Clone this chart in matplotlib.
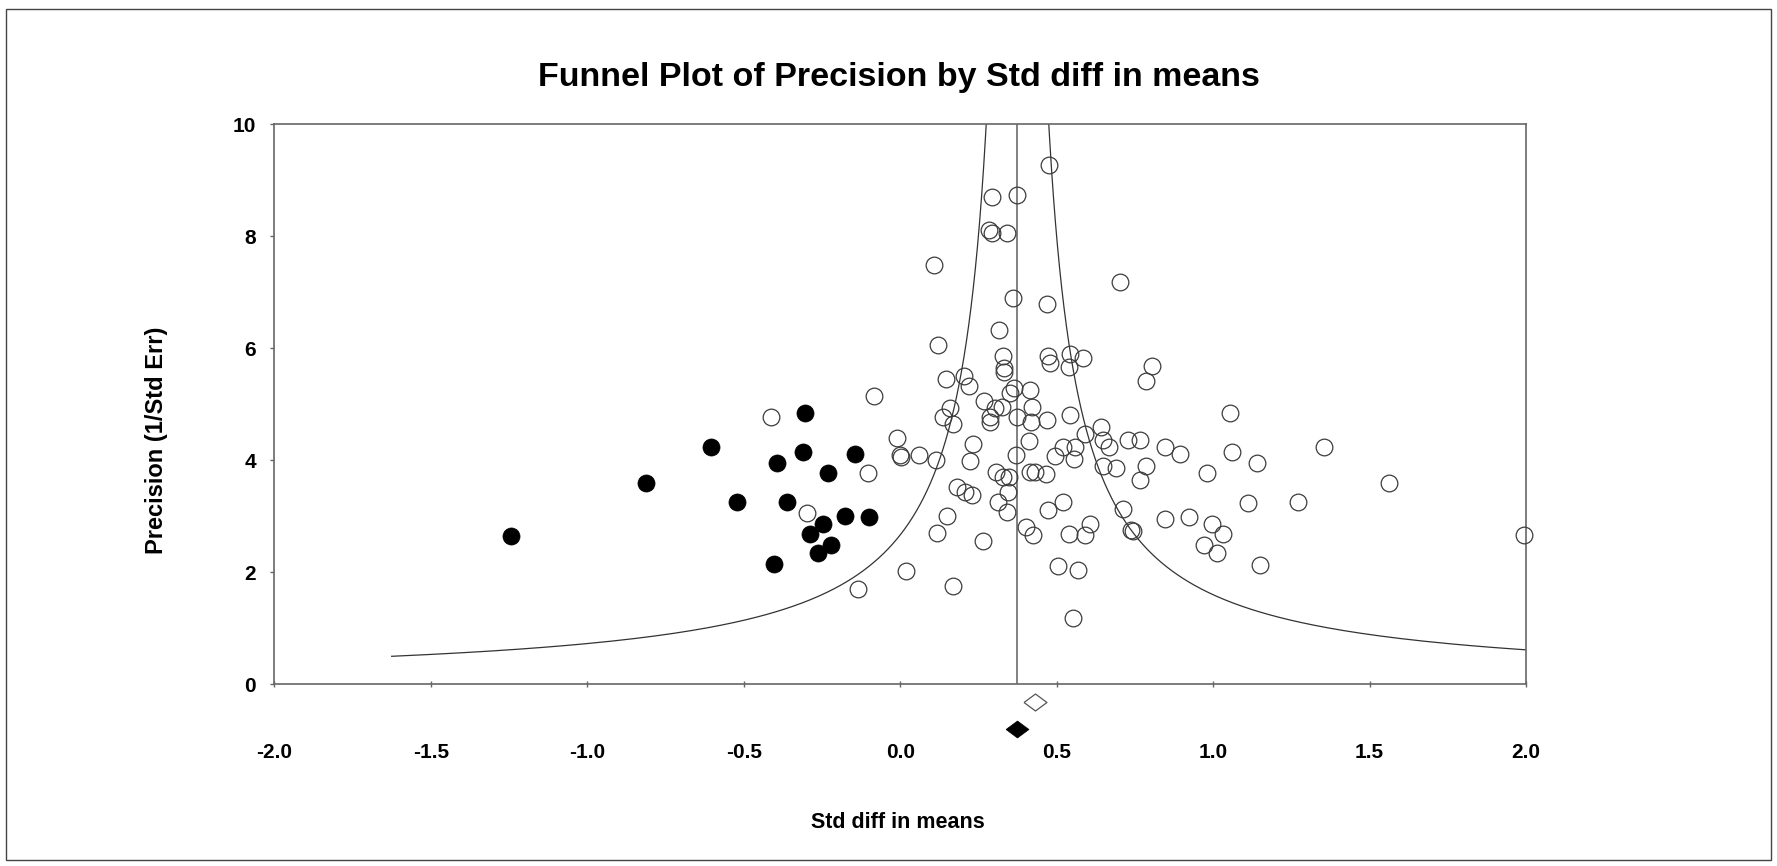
import matplotlib
matplotlib.use('Agg')
import matplotlib.pyplot as plt
import numpy as np
from matplotlib.patches import Rectangle

plt.rcParams['font.family'] = ['Liberation Sans', 'DejaVu Sans']

# ---------------- data ----------------
# observed studies (open circles): std diff in means, precision
obs_x = [0.476, 0.292, 0.375, 0.283, 0.295, 0.343, 0.108, 0.702, 0.362, 0.469,
         0.315, 0.120, 0.329, 0.331, 0.332, 0.473, 0.478, 0.542, 0.540, 0.585,
         0.806, 0.785, 0.146, 0.203, 0.221, 0.350, 0.364, 0.414, -0.082, 0.268,
         0.302, 0.324, 0.286, 0.286, 0.159, 0.138, 0.170, 0.374, 0.420, 0.417,
         0.468, 0.542, 1.053, -0.414, 0.590, 0.643, 0.649, 0.668, 0.729, 0.766,
         0.846, 0.894, 1.059, 1.354, 1.139, -0.009, -0.001, 0.004, 0.060, 0.114,
         0.234, 0.222, 0.412, 0.370, 0.519, 0.558, 0.494, 0.556, 0.648, 0.689,
         0.787, 0.766, 0.981, 1.563, 0.306, 0.329, 0.348, 0.345, 0.313, 0.340,
         0.414, 0.430, 0.465, 0.181, 0.206, 0.230, 0.149, 0.118, 0.265, 0.402,
         0.423, 0.472, 0.520, 0.540, 0.590, 0.608, 0.713, 0.846, 0.923, 0.995,
         1.032, 1.112, 1.270, 0.739, 0.745, 0.970, 1.011, 1.151, 0.505, 0.569,
         0.553, 1.993, -0.297, -0.102, -0.136, 0.018, 0.169]
obs_y = [9.27, 8.70, 8.74, 8.12, 8.05, 8.05, 7.48, 7.18, 6.89, 6.79,
         6.33, 6.06, 5.86, 5.64, 5.58, 5.86, 5.73, 5.89, 5.67, 5.83,
         5.68, 5.42, 5.45, 5.51, 5.32, 5.20, 5.29, 5.26, 5.14, 5.05,
         4.93, 4.95, 4.78, 4.69, 4.93, 4.77, 4.65, 4.78, 4.95, 4.69,
         4.72, 4.81, 4.84, 4.77, 4.47, 4.60, 4.36, 4.24, 4.37, 4.36,
         4.23, 4.11, 4.15, 4.24, 3.95, 4.39, 4.09, 4.06, 4.09, 4.00,
         4.30, 3.99, 4.35, 4.10, 4.24, 4.24, 4.07, 4.03, 3.89, 3.86,
         3.89, 3.64, 3.77, 3.59, 3.80, 3.71, 3.70, 3.43, 3.26, 3.08,
         3.80, 3.80, 3.76, 3.52, 3.44, 3.38, 3.00, 2.71, 2.56, 2.81,
         2.67, 3.12, 3.26, 2.69, 2.67, 2.86, 3.13, 2.96, 2.99, 2.86,
         2.68, 3.24, 3.26, 2.76, 2.73, 2.48, 2.34, 2.13, 2.11, 2.05,
         1.19, 2.66, 3.06, 3.77, 1.70, 2.03, 1.76]

# imputed studies (filled circles)
imp_x = [-1.245, -0.812, -0.603, -0.521, -0.304, -0.310, -0.392, -0.363, -0.232,
         -0.145, -0.099, -0.176, -0.288, -0.246, -0.222, -0.262, -0.404]
imp_y = [2.65, 3.59, 4.24, 3.26, 4.84, 4.15, 3.95, 3.25, 3.77,
         4.11, 2.98, 3.01, 2.68, 2.86, 2.48, 2.34, 2.14]

mean_observed = 0.431     # open diamond
mean_adjusted = 0.375     # filled diamond / vertical line / funnel centre
diamond_y = [-0.32, -0.80]
funnel_k = 1.0            # half-width = funnel_k / precision
funnel_prec_min = 0.5

title = "Funnel Plot of Precision by Std diff in means"
xlabel = "Std diff in means"
ylabel = "Precision (1/Std Err)"
xticks = [-2.0, -1.5, -1.0, -0.5, 0.0, 0.5, 1.0, 1.5, 2.0]
yticks = [0, 2, 4, 6, 8, 10]

# ---------------- figure ----------------
W, H = 1777, 866
fig = plt.figure(figsize=(W / 100, H / 100), dpi=100)
ax = fig.add_axes([274.3 / W, 1 - 684.3 / H, (1526 - 274.3) / W, (684.3 - 124.3) / H])
ax.set_xlim(-2, 2)
ax.set_ylim(0, 10)

spine_col = '#666666'
for s in ax.spines.values():
    s.set_color(spine_col)
    s.set_linewidth(1.2)

# funnel
prec = np.linspace(funnel_prec_min, 10, 600)
ax.plot(mean_adjusted - funnel_k / prec, prec, color='#333333', lw=0.9)
ax.plot(mean_adjusted + funnel_k / prec, prec, color='#333333', lw=0.9)
ax.axvline(mean_adjusted, color='#777777', lw=1.3)

# points
ax.plot(obs_x, obs_y, linestyle='none', marker='o', ms=12, mfc='none',
        mec='#3c3c3c', mew=0.9, clip_on=False, zorder=3)
ax.plot(imp_x, imp_y, linestyle='none', marker='o', ms=12.3, mfc='black',
        mec='black', mew=0.5, clip_on=False, zorder=3)

dmark = [(-1.35, 0), (0, 1), (1.35, 0), (0, -1), (-1.35, 0)]
ax.plot([mean_observed], [diamond_y[0]], linestyle='none', marker=dmark, ms=16.5,
        mfc='white', mec='#555555', mew=0.9, clip_on=False, zorder=3)
ax.plot([mean_adjusted], [diamond_y[1]], linestyle='none', marker=dmark, ms=16.5,
        mfc='black', mec='black', mew=0.5, clip_on=False, zorder=3)

ax.set_xticks(xticks)
ax.set_xticklabels([f"{v:.1f}" for v in xticks])
ax.set_yticks(yticks)
ax.set_yticklabels([str(v) for v in yticks])
ax.tick_params(axis='x', direction='inout', length=4.5, width=1, color=spine_col,
               pad=40, labelsize=15)
ax.tick_params(axis='y', direction='out', length=3, width=1, color=spine_col,
               pad=10, labelsize=15)
for lab in ax.get_xticklabels() + ax.get_yticklabels():
    lab.set_fontweight('bold')

fig.text(899 / W, 1 - 86 / H, title, ha='center', va='baseline',
         fontsize=24.5, fontweight='bold')
fig.text(898 / W, 1 - 828 / H, xlabel, ha='center', va='baseline',
         fontsize=15.5, fontweight='bold')
fig.text(156 / W, 1 - 440 / H, ylabel, ha='center', va='center', rotation=90,
         fontsize=17, fontweight='bold')

fig.patches.append(Rectangle((6 / W, 6 / H), 1 - 12 / W, 1 - 15 / H,
                             transform=fig.transFigure, fill=False,
                             edgecolor='#444444', lw=1.0))

fig.savefig('out.png', dpi=100)
